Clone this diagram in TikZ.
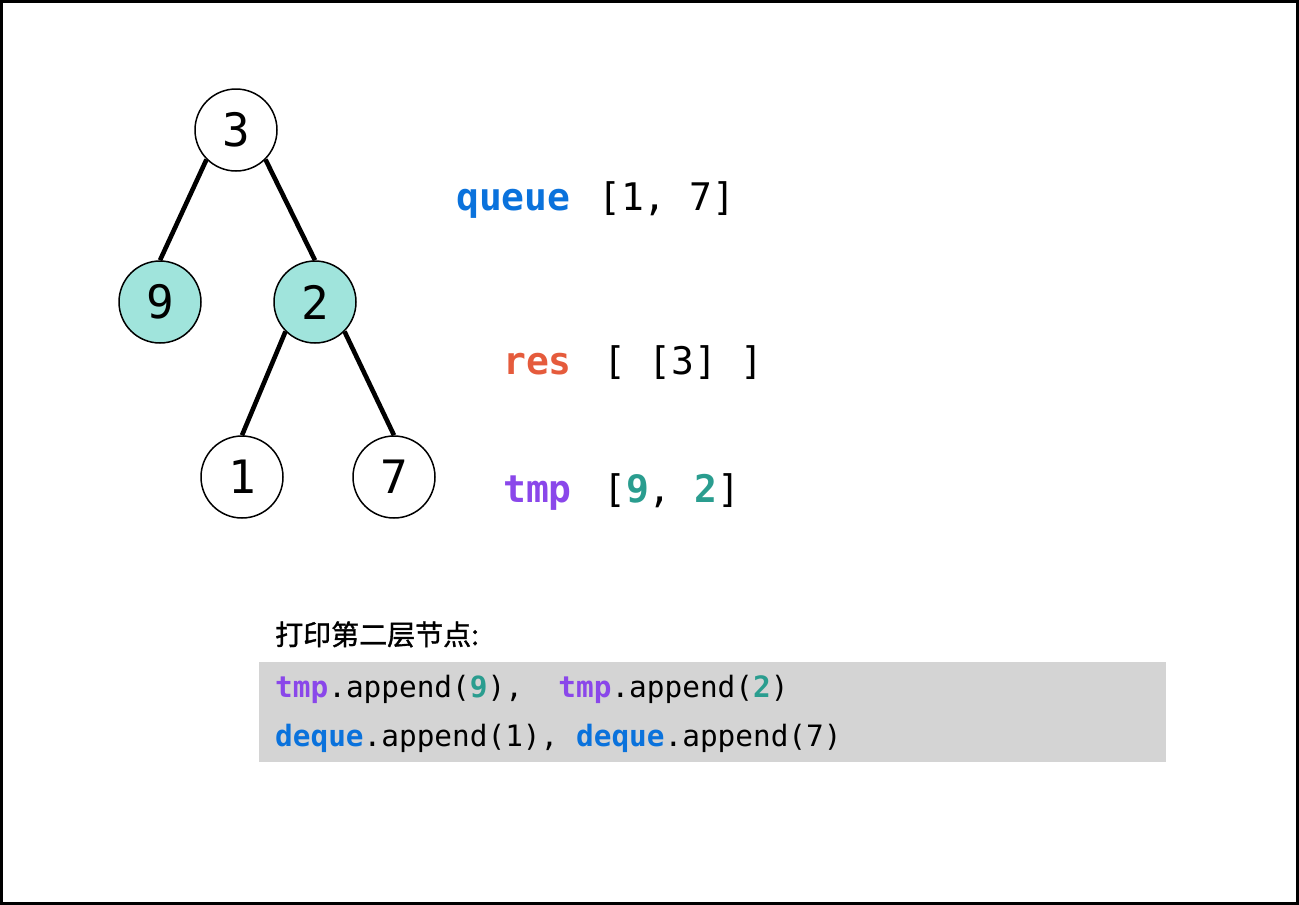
\documentclass[tikz,border=0pt]{standalone}
\usepackage{fontspec}
\setmonofont{DejaVu Sans Mono}
\newfontfamily\cjk[FakeBold=1.2]{Noto Sans CJK SC}
\usetikzlibrary{positioning}
\definecolor{ink}{HTML}{000000}
\definecolor{qblue}{HTML}{0A72DC}
\definecolor{resred}{HTML}{E55B3C}
\definecolor{tmppurple}{HTML}{8A47EA}
\definecolor{teal}{HTML}{2A9D8F}
\definecolor{hitfill}{HTML}{A0E4DC}
\definecolor{codebg}{HTML}{D4D4D4}
\tikzset{
  treenode/.style={circle, draw=ink, line width=1.5pt, minimum size=82pt, inner sep=0pt, fill=white, font=\ttfamily\fontsize{46}{46}\selectfont},
  hitnode/.style={treenode, fill=hitfill},
  edge/.style={line width=4.6pt, draw=ink},
  bigtext/.style={anchor=base west, inner sep=0pt, font=\ttfamily\fontsize{38}{38}\selectfont},
  codetext/.style={anchor=base west, inner sep=0pt, font=\ttfamily\fontsize{29.4}{29.4}\selectfont},
  notetext/.style={anchor=base west, inner sep=0pt, font=\cjk\fontsize{28}{28}\selectfont}
}
\begin{document}
\begin{tikzpicture}[x=1pt, y=-1pt]
\useasboundingbox (0,0) rectangle (1299,905);
\draw[line width=3pt, draw=ink] (1.5,1.5) rectangle (1297.5,903.5);
% tree
\node[treenode] (n3) at (236,130) {3};
\node[hitnode] (n9) at (160,302) {9};
\node[hitnode] (n2) at (315,302) {2};
\node[treenode] (n1) at (242,477) {1};
\node[treenode] (n7) at (394,477) {7};
\draw[edge] (n3.south west) -- (n9.north);
\draw[edge] (n3.south east) -- (n2.north);
\draw[edge] (n2.south west) -- (n1.north);
\draw[edge] (n2.south east) -- (n7.north);
% state of the queue
\node[bigtext] (queue) at (456,210) {\textcolor{qblue}{\bfseries queue}};
\node[bigtext] (queueval) at (598,210) {[1, 7]};
\node[bigtext] (res) at (503,374) {\textcolor{resred}{\bfseries res}};
\node[bigtext] (resval) at (603,374) {[ [3] ]};
\node[bigtext] (tmp) at (503,502) {\textcolor{tmppurple}{\bfseries tmp}};
\node[bigtext] (tmpval) at (603,502) {[\textcolor{teal}{\bfseries 9}, \textcolor{teal}{\bfseries 2}]};
% code box
\fill[codebg] (259,662) rectangle (1166,762);
\node[notetext] (note) at (275,645) {打印第二层节点:};
\node[codetext] (line1) at (275,697) {\textcolor{tmppurple}{\bfseries tmp}.append(\textcolor{teal}{\bfseries 9}),\ \ \textcolor{tmppurple}{\bfseries tmp}.append(\textcolor{teal}{\bfseries 2})};
\node[codetext] (line2) at (275,746) {\textcolor{qblue}{\bfseries deque}.append(1), \textcolor{qblue}{\bfseries deque}.append(7)};
\end{tikzpicture}
\end{document}
